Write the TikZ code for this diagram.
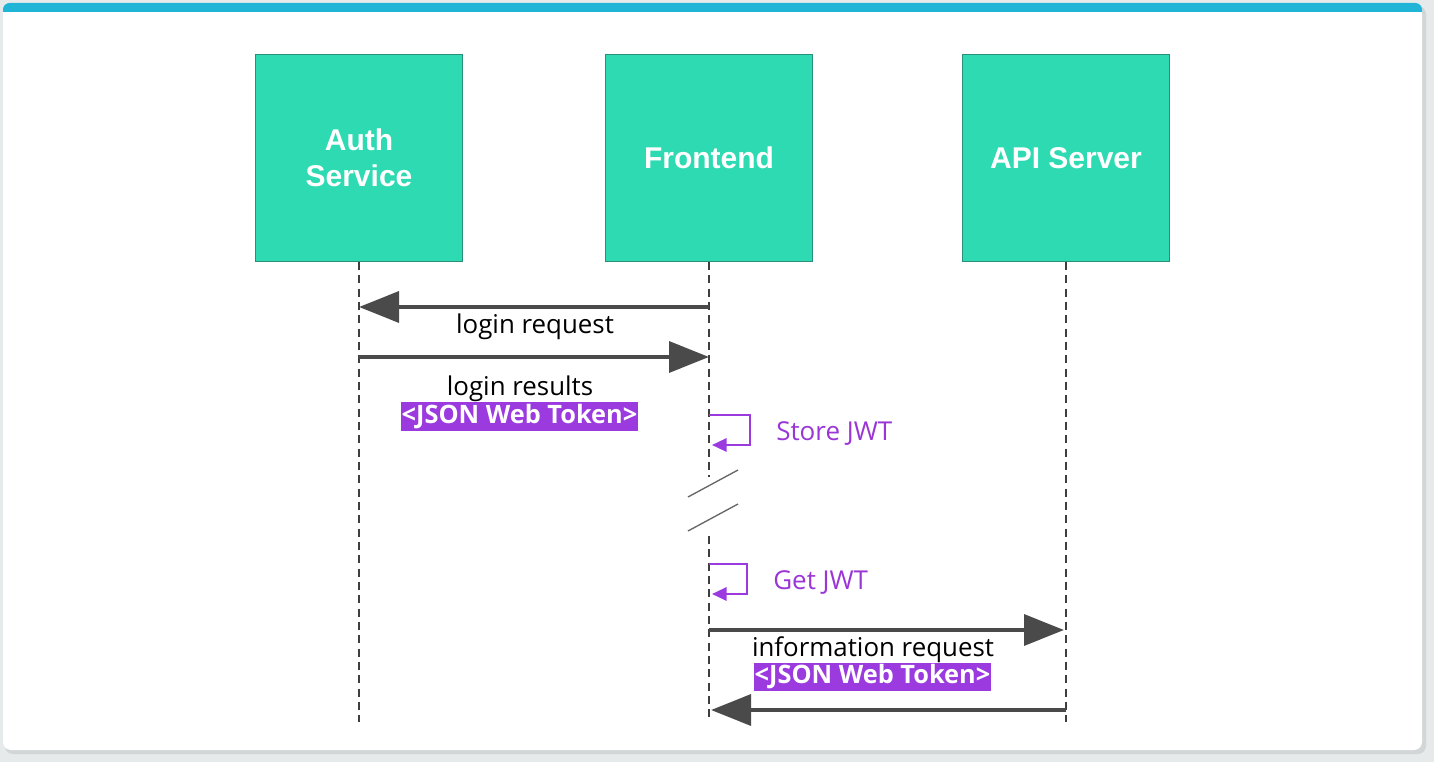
\documentclass[tikz,border=0pt]{standalone}
\usepackage{fontspec}
\setmainfont{Open Sans}
\newfontfamily\titlefont{Liberation Sans}
\usetikzlibrary{arrows.meta}
\definecolor{bg}{HTML}{E6EAEA}
\definecolor{shadowc}{HTML}{D2D6D6}
\definecolor{barc}{HTML}{20B4D6}
\definecolor{boxfill}{HTML}{2DDAB2}
\definecolor{boxline}{HTML}{2A8F78}
\definecolor{arrowc}{HTML}{4A4A4A}
\definecolor{purp}{HTML}{9B3BDF}
\definecolor{purptext}{HTML}{9A35D6}
\definecolor{lifec}{HTML}{3E3E3E}
\begin{document}
\begin{tikzpicture}[x=0.75pt,y=-0.75pt,
 actor/.style={draw=boxline, line width=0.8pt, fill=boxfill, minimum width=155pt, minimum height=155pt, inner sep=0pt, text=white, font=\titlefont\bfseries\fontsize{22.5}{27}\selectfont, align=center},
 lifeline/.style={draw=lifec, line width=1.8pt, dash pattern=on 6pt off 4pt},
 msg/.style={draw=arrowc, line width=3.4pt, -{Triangle[length=30pt,width=23pt]}},
 lbl/.style={font=\fontsize{19.4}{22}\selectfont, text=black, inner sep=0pt},
 token/.style={fill=purp, text=white, font=\bfseries\fontsize{19}{21}\selectfont, inner xsep=0.5pt, inner ysep=0pt, minimum height=21.5pt},
 selfl/.style={draw=purp, line width=1.7pt, -{Triangle[length=11pt,width=10pt]}},
 selft/.style={font=\fontsize{19.5}{22}\selectfont, text=purptext, inner sep=0pt, anchor=west},
 brk/.style={draw=gray!80!black, line width=1pt}]
\useasboundingbox (0,0) rectangle (1434,762);
% background and card
\fill[bg] (0,0) rectangle (1434,762);
\fill[shadowc, rounded corners=6] (5,6) rectangle (1426,754);
\fill[white, rounded corners=6] (3,3) rectangle (1422,750);
\fill[barc, rounded corners=5] (3,3) rectangle (1422,20);
\fill[white] (3,12) rectangle (1422,24);
% actors
\node[actor] (auth) at (359,158) {Auth\\Service};
\node[actor] (front) at (709,158) {Frontend};
\node[actor] (api) at (1066,158) {API Server};
% lifeline ends
\coordinate (authEnd) at (359,722);
\coordinate (frontGapA) at (709,477);
\coordinate (frontGapB) at (709,536);
\coordinate (frontEnd) at (709,722);
\coordinate (apiEnd) at (1066,722);
\draw[lifeline] (auth.south) -- (authEnd);
\draw[lifeline] (front.south) -- (frontGapA);
\draw[lifeline] (frontGapB) -- (frontEnd);
\draw[lifeline] (api.south) -- (apiEnd);
% message points
\coordinate (m1s) at (709,307);
\coordinate (m1e) at (359,307);
\coordinate (m2s) at (359,357);
\coordinate (m2e) at (709,357);
\coordinate (m3s) at (709,630);
\coordinate (m3e) at (1064,630);
\coordinate (m4s) at (1066,710);
\coordinate (m4e) at (711,710);
\draw[msg] (m1s) -- (m1e);
\node[lbl] (l1) at (535,326.5) {login request};
\draw[msg] (m2s) -- (m2e);
\node[lbl] (l2) at (520,388.5) {login results};
\node[token] (t1) at (519.5,416.5) {<JSON Web Token>};
% store JWT
\coordinate (s1a) at (709,415);
\coordinate (s1b) at (750,415);
\coordinate (s1c) at (750,445);
\coordinate (s1d) at (712,445);
\draw[selfl] (s1a) -- (s1b) -- (s1c) -- (s1d);
\node[selft] (st) at (776,433.5) {Store JWT};
% break marks
\coordinate (b1a) at (688,497);
\coordinate (b1b) at (738,470);
\coordinate (b2a) at (688,531);
\coordinate (b2b) at (738,504);
\draw[brk] (b1a) -- (b1b);
\draw[brk] (b2a) -- (b2b);
% get JWT
\coordinate (g1a) at (709,564);
\coordinate (g1b) at (747,564);
\coordinate (g1c) at (747,594);
\coordinate (g1d) at (712,594);
\draw[selfl] (g1a) -- (g1b) -- (g1c) -- (g1d);
\node[selft] (gt) at (773,582.5) {Get JWT};
% info request
\draw[msg] (m3s) -- (m3e);
\node[lbl] (l3) at (873,649.5) {information request};
\node[token] (t2) at (872.5,677) {<JSON Web Token>};
\draw[msg] (m4s) -- (m4e);
\end{tikzpicture}
\end{document}
